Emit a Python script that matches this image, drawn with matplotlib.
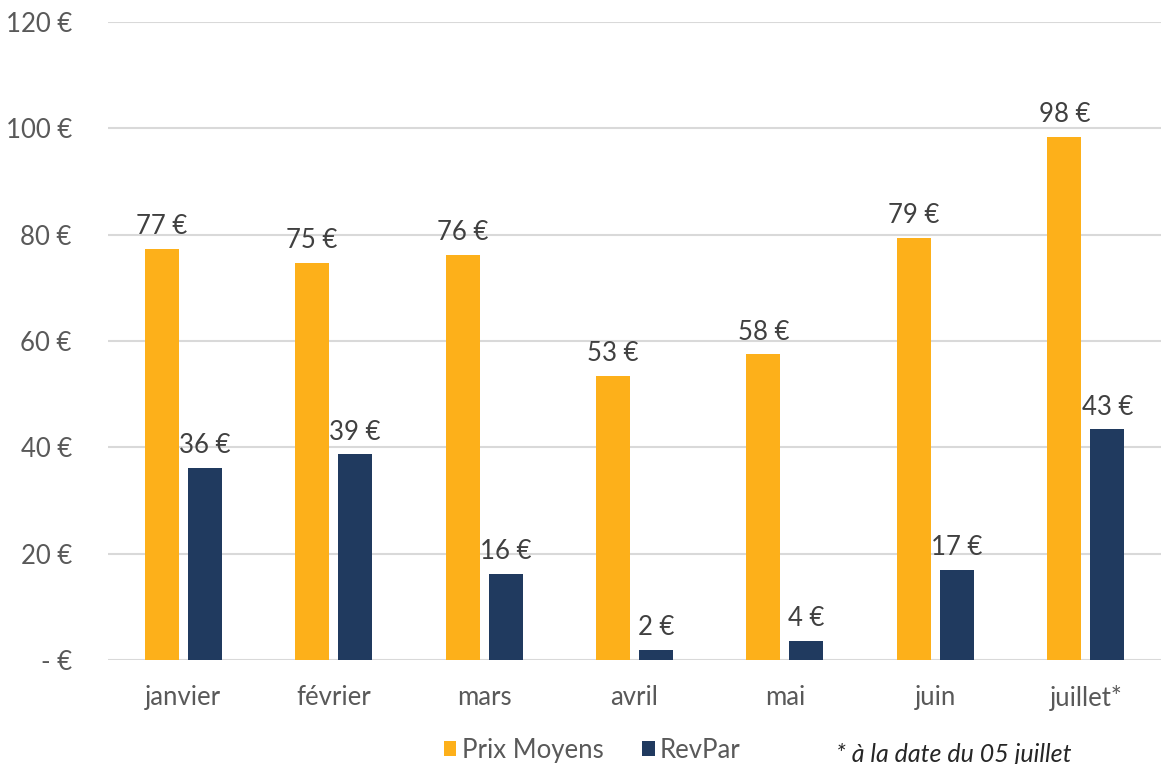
import numpy as np
import matplotlib
matplotlib.use("Agg")
import matplotlib.pyplot as plt
from matplotlib.ticker import FuncFormatter

plt.rcParams['font.family'] = ['Lato', 'DejaVu Sans']

# Values
months = ["janvier", "février", "mars", "avril", "mai", "juin", "juillet*"]
prix_moyens = [77.3, 74.7, 76.2, 53.4, 57.5, 79.4, 98.4]
revpar = [36.1, 38.7, 16.2, 1.9, 3.6, 16.9, 43.4]
series_names = ["Prix Moyens", "RevPar"]

orange = "#FDB01A"
navy = "#203A5F"
grey = "#595959"

fig = plt.figure(figsize=(11.61, 7.64), dpi=100)
ax = fig.add_axes([0.093, 0.1361, 0.907, 0.8351])

x = np.arange(len(months))
w = 0.226
off = 0.143
b1 = ax.bar(x - off, prix_moyens, w, color=orange, label=series_names[0], zorder=3)
b2 = ax.bar(x + off, revpar, w, color=navy, label=series_names[1], zorder=3)

for bars, vals in ((b1, prix_moyens), (b2, revpar)):
    for rect, v in zip(bars, vals):
        ax.annotate(f"{round(v):.0f} €", (rect.get_x() + rect.get_width() / 2, v),
                    xytext=(0, 7), textcoords="offset points",
                    ha="center", va="bottom", fontsize=18.5, color="#404040")

ax.set_xlim(-0.5, len(months) - 0.5)
ax.set_ylim(0, 120)
ax.set_yticks(np.arange(0, 121, 20))
ax.yaxis.set_major_formatter(FuncFormatter(lambda v, p: "- €" if v == 0 else f"{v:.0f} €"))
ax.set_xticks(x)
ax.set_xticklabels(months)
ax.tick_params(axis="both", length=0, labelsize=18.5, colors=grey)
ax.tick_params(axis="y", pad=26)
ax.tick_params(axis="x", pad=18)
ax.grid(axis="y", color="#D9D9D9", linewidth=1.5, zorder=0)
for s in ax.spines.values():
    s.set_visible(False)

fig.legend(handles=[b1, b2], loc="center", bbox_to_anchor=(0.51, 0.018),
           ncol=2, frameon=False, fontsize=18.5, handlelength=0.5, handleheight=0.5,
           handletextpad=0.2, columnspacing=1.5, labelcolor=grey)
fig.text(0.72, -0.002, "* à la date du 05 juillet", fontsize=18, style="italic",
         color="#262626", ha="left", va="bottom")

fig.savefig("out.png", dpi=100)
